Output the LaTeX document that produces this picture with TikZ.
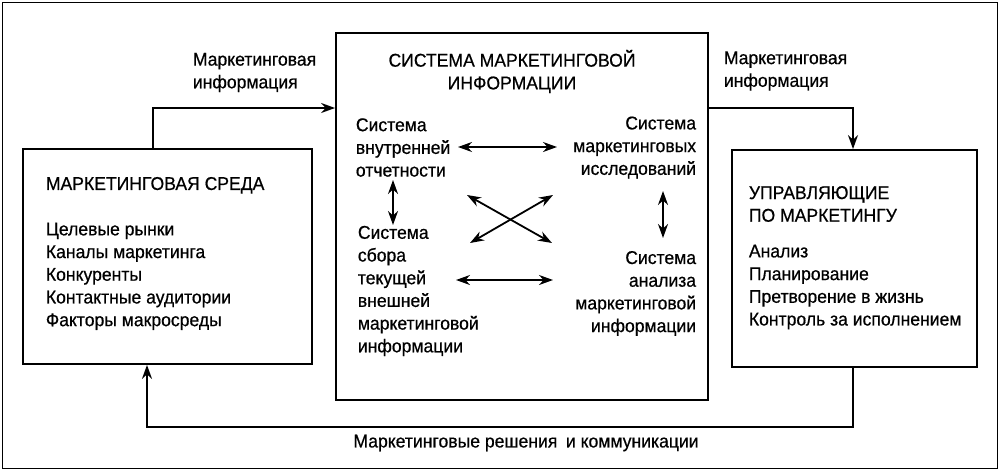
\documentclass[tikz,border=0pt]{standalone}
\usepackage{fontspec}
\setmainfont{Liberation Sans}[FakeStretch=0.95,FakeBold=0.6]
\usetikzlibrary{arrows.meta}
\begin{document}
\begin{tikzpicture}[x=1pt,y=-1pt,
  line width=1.8pt,
  box/.style={draw,line width=1.8pt,inner sep=0pt},
  txt/.style={inner sep=0pt,font=\fontsize{18.5}{22.7}\selectfont},
  arr/.style={-{Stealth[length=14pt,width=10pt]}},
  darr/.style={{Stealth[length=14pt,width=10pt]}-{Stealth[length=14pt,width=10pt]}}]
\useasboundingbox (0,0) rectangle (1000,471);
% outer frame
\node[box,minimum width=995pt,minimum height=466pt] (frame) at (500,235.5) {};
% boxes
\node[box,minimum width=289pt,minimum height=215pt] (lbox) at (167.5,256.5) {};
\node[box,minimum width=372pt,minimum height=367pt] (cbox) at (522,216.5) {};
\node[box,minimum width=245pt,minimum height=217pt] (rbox) at (854.5,258.5) {};
% outer labels
\node[txt,anchor=west,align=left] (lt1) at (192,72.5) {Маркетинговая\\информация};
\node[txt,anchor=west,align=left] (lt2) at (723,71) {Маркетинговая\\информация};
\node[txt] (lt3) at (526,443) {Маркетинговые решения\hspace{0.2em} и коммуникации};
% central box
\node[txt,align=center] (title) at (512,71.5) {СИСТЕМА МАРКЕТИНГОВОЙ\\ИНФОРМАЦИИ};
\node[txt,anchor=west,align=left] (s1) at (355,147.5) {Система\\внутренней\\отчетности};
\node[txt,anchor=east,align=right] (s2) at (697,147.5) {Система\\маркетинговых\\исследований};
\node[txt,anchor=west,align=left] (s3) at (357,291) {Система\\сбора\\текущей\\внешней\\маркетинговой\\информации};
\node[txt,anchor=east,align=right] (s4) at (697,293.5) {Система\\анализа\\маркетинговой\\информации};
% left box
\node[txt,anchor=west,align=left] (ltext) at (45,253.5) {МАРКЕТИНГОВАЯ СРЕДА\\[22.7pt]Целевые рынки\\Каналы маркетинга\\Конкуренты\\Контактные аудитории\\Факторы макросреды};
% right box
\node[txt,anchor=west,align=left] (rtitle) at (748,204) {УПРАВЛЯЮЩИЕ\\ПО МАРКЕТИНГУ};
\node[txt,anchor=west,align=left] (rtext) at (748,287) {Анализ\\Планирование\\Претворение в жизнь\\Контроль за исполнением};
% outer connectors
\coordinate (c1) at (153,108);
\coordinate (c2) at (853,108);
\coordinate (c3) at (147,427);
\draw[arr] (lbox.north -| c1) |- (cbox.west |- c1);
\draw[arr] (cbox.east |- c2) -| (rbox.north -| c2);
\draw[arr] (rbox.south -| c2) |- (c3) -- (lbox.south -| c3);
% inner arrows
\coordinate (h1a) at (458,147); \coordinate (h1b) at (557,147);
\coordinate (h2a) at (456,280); \coordinate (h2b) at (553,280);
\coordinate (v1a) at (393,180); \coordinate (v1b) at (393,225);
\coordinate (v2a) at (663,191); \coordinate (v2b) at (663,238);
\coordinate (x1a) at (467,195); \coordinate (x1b) at (552,243);
\coordinate (x2a) at (470,243); \coordinate (x2b) at (553,195);
\draw[darr] (h1a) -- (h1b);
\draw[darr] (h2a) -- (h2b);
\draw[darr] (v1a) -- (v1b);
\draw[darr] (v2a) -- (v2b);
\draw[darr] (x1a) -- (x1b);
\draw[darr] (x2a) -- (x2b);
\end{tikzpicture}
\end{document}
